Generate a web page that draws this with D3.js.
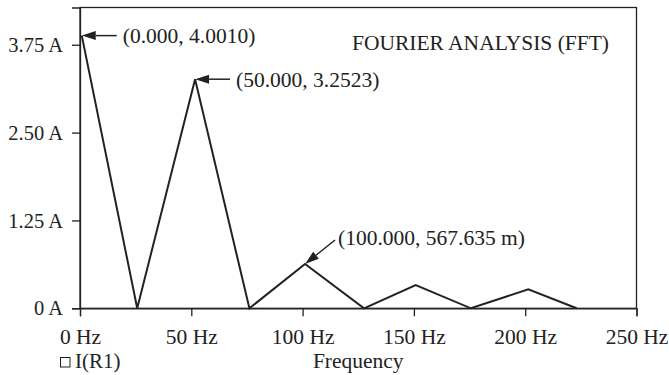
<!DOCTYPE html>
<html>
<head>
<meta charset="utf-8">
<script src="https://cdn.jsdelivr.net/npm/d3@7"></script>
<style>
  html, body { margin: 0; padding: 0; background: #fff; }
  svg { display: block; }
  text { font-family: "Liberation Serif", "Times New Roman", serif; fill: #222; }
</style>
</head>
<body>
<script>
// ---- data ----
const freqs = [0.8, 25.7, 51.7, 76.1, 101.1, 127.6, 150.8, 175.6, 201.4, 223.1];
const amps  = [3.88, 0, 3.26, 0, 0.63, 0, 0.33, 0, 0.27, 0];
const xTicks = [0, 50, 100, 150, 200, 250];
const xTickLabels = ["0 Hz", "50 Hz", "100 Hz", "150 Hz", "200 Hz", "250 Hz"];
const yTicks = [0, 1.25, 2.5, 3.75];
const yTickLabels = ["0 A", "1.25 A", "2.50 A", "3.75 A"];
const annotIndex = [0, 2, 4];
const annotLabels = ["(0.000, 4.0010)", "(50.000, 3.2523)", "(100.000, 567.635 m)"];
const titleText = "FOURIER ANALYSIS (FFT)";
const xTitle = "Frequency";
const legendLabel = "I(R1)";

// ---- layout ----
const W = 669, H = 375;
const m = { left: 80, right: 32.5, top: 7.5, bottom: 66.7 };
const iw = W - m.left - m.right, ih = H - m.top - m.bottom;
const ink = "#222";

const svg = d3.select("body").append("svg").attr("width", W).attr("height", H);
const g = svg.append("g").attr("transform", `translate(${m.left},${m.top})`);

const x = d3.scaleLinear().domain([0, 250]).range([0, iw]);
const y = d3.scaleLinear().domain([0, 4.28]).range([ih, 0]);

// frame
g.append("rect").attr("x", 0).attr("y", 0).attr("width", iw).attr("height", ih)
  .attr("fill", "none").attr("stroke", ink).attr("stroke-width", 1.3);

// axes
const xAxis = d3.axisBottom(x).tickValues(xTicks)
  .tickFormat((d, i) => xTickLabels[i]).tickSize(8).tickPadding(12);
const gx = g.append("g").attr("transform", `translate(0,${ih})`).call(xAxis);
const yAxis = d3.axisLeft(y).tickValues(yTicks)
  .tickFormat((d, i) => yTickLabels[i]).tickSize(8).tickPadding(9);
const gy = g.append("g").call(yAxis);
[gx, gy].forEach(a => {
  a.select(".domain").attr("stroke", ink).attr("stroke-width", 1.3);
  a.selectAll(".tick line").attr("stroke", ink).attr("stroke-width", 1.3);
  a.selectAll(".tick text").attr("font-family", "Liberation Serif").attr("fill", ink);
});
gx.selectAll(".tick text").attr("font-size", 21.5);
gy.selectAll(".tick text").attr("font-size", 20.5);

// series line
const pts = freqs.map((f, i) => [f, amps[i]]);
g.append("path").datum(pts)
  .attr("fill", "none").attr("stroke", ink).attr("stroke-width", 2)
  .attr("stroke-linejoin", "miter")
  .attr("d", d3.line().x(d => x(d[0])).y(d => y(d[1])));

// annotations (arrows pointing at data points)
const annotOffsets = [[35, 0], [35, 0], [30, -24]];
const labelGap = [[6, 0], [6, 0], [3, -3]];
annotIndex.forEach((idx, k) => {
  const px = x(freqs[idx]), py = y(amps[idx]);
  const [dx, dy] = annotOffsets[k];
  const tx = px + dx, ty = py + dy;
  const len = Math.hypot(dx, dy), ux = dx / len, uy = dy / len;
  const hl = 14, hw = 4.5;
  const bx = px + ux * hl, by = py + uy * hl;
  g.append("line").attr("x1", bx).attr("y1", by).attr("x2", tx).attr("y2", ty)
    .attr("stroke", ink).attr("stroke-width", 1.5);
  g.append("path")
    .attr("d", `M${px},${py} L${bx - uy * hw},${by + ux * hw} L${bx + uy * hw},${by - ux * hw} Z`)
    .attr("fill", ink);
  g.append("text").attr("x", tx + labelGap[k][0]).attr("y", ty + labelGap[k][1])
    .attr("dy", "0.35em").attr("font-size", 21.5).text(annotLabels[k]);
});

// title inside plot
g.append("text").attr("x", 529).attr("y", 42.5).attr("text-anchor", "end")
  .attr("font-size", 21.5).text(titleText);

// x axis title
svg.append("text").attr("x", m.left + iw / 2).attr("y", 368).attr("text-anchor", "middle")
  .attr("font-size", 21.5).text(xTitle);

// legend
svg.append("rect").attr("x", 60.5).attr("y", 357.5).attr("width", 9.5).attr("height", 9.5)
  .attr("fill", "none").attr("stroke", ink).attr("stroke-width", 1);
svg.append("text").attr("x", 75).attr("y", 368).attr("font-size", 21).text(legendLabel);
</script>
</body>
</html>
